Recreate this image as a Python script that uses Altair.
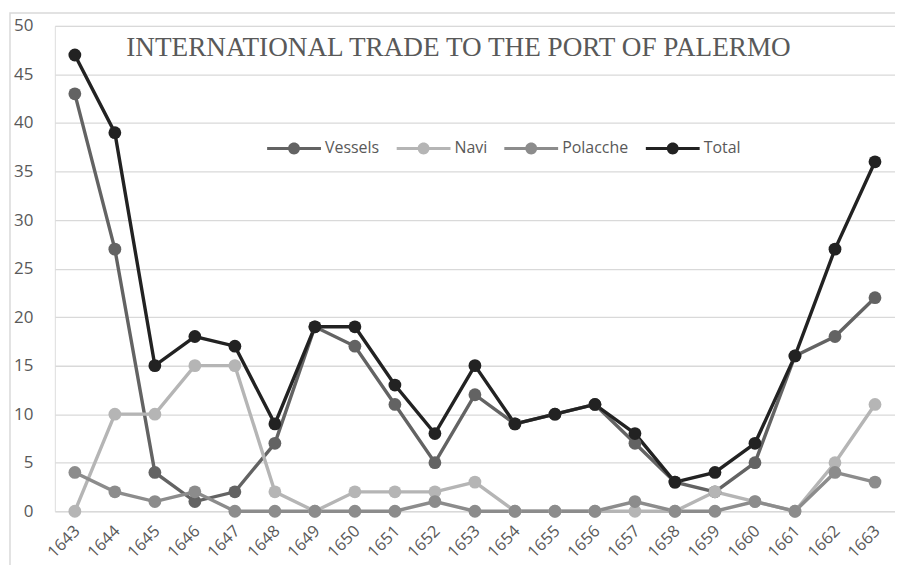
import altair as alt
import pandas as pd

years = [str(y) for y in range(1643, 1664)]
vessels = [43, 27, 4, 1, 2, 7, 19, 17, 11, 5, 12, 9, 10, 11, 7, 3, 2, 5, 16, 18, 22]
navi = [0, 10, 10, 15, 15, 2, 0, 2, 2, 2, 3, 0, 0, 0, 0, 0, 2, 1, 0, 5, 11]
polacche = [4, 2, 1, 2, 0, 0, 0, 0, 0, 1, 0, 0, 0, 0, 1, 0, 0, 1, 0, 4, 3]
total = [47, 39, 15, 18, 17, 9, 19, 19, 13, 8, 15, 9, 10, 11, 8, 3, 4, 7, 16, 27, 36]

series_names = ["Vessels", "Navi", "Polacche", "Total"]
series_colors = ["#636363", "#b5b5b5", "#8c8c8c", "#222222"]
y_ticks = [0, 5, 10, 15, 20, 25, 30, 35, 40, 45, 50]
title_text = "INTERNATIONAL TRADE TO THE PORT OF PALERMO"

rows = []
for name, vals in zip(series_names, [vessels, navi, polacche, total]):
    for yr, v in zip(years, vals):
        rows.append({"year": yr, "value": v, "series": name, "order": series_names.index(name)})
df = pd.DataFrame(rows)

W, H = 843, 487
FONT = "Open Sans"
TXT = "#595959"

x_enc = alt.X("year:O", sort=years,
              scale=alt.Scale(type="point", padding=0.5),
              axis=alt.Axis(title=None, labelAngle=-45, labelAlign="right", labelBaseline="middle",
                            labelFont=FONT, labelFontSize=16.5, labelColor=TXT, labelPadding=17,
                            labelOffset=2,
                            ticks=False, domain=False, grid=False))
y_enc = alt.Y("value:Q", scale=alt.Scale(domain=[0, 50], nice=False),
              axis=alt.Axis(title=None, values=y_ticks, labelFont=FONT, labelFontSize=17,
                            labelColor=TXT, labelPadding=22, ticks=False, domain=False,
                            grid=True, gridColor="#d9d9d9", gridWidth=1.3))

legend_path = ("M -1 -0.055 L 1 -0.055 L 1 0.055 L -1 0.055 Z "
               "M 0.22 0 A 0.22 0.22 0 1 1 -0.22 0 A 0.22 0.22 0 1 1 0.22 0 Z")

border = alt.Chart(pd.DataFrame({"a": [0]})).mark_rect(
    fill=None, stroke="#d9d9d9", strokeWidth=1.5
).encode(x=alt.value(-45), x2=alt.value(870), y=alt.value(-13), y2=alt.value(600))

lines = alt.Chart(df).mark_line(strokeWidth=3.4).encode(
    x=x_enc, y=y_enc,
    color=alt.Color("series:N", scale=alt.Scale(domain=series_names, range=series_colors),
                    legend=None),
    order=alt.Order("order:Q"),
)

points = alt.Chart(df).mark_point(filled=True, size=165, opacity=1).encode(
    x=x_enc, y=y_enc,
    color=alt.Color("series:N", scale=alt.Scale(domain=series_names, range=series_colors),
                    legend=alt.Legend(title=None, orient="none", direction="horizontal",
                                      legendX=213, legendY=96, symbolType=legend_path,
                                      symbolSize=2916, symbolStrokeWidth=0, symbolOpacity=1,
                                      labelFont=FONT, labelFontSize=16, labelColor=TXT,
                                      labelOffset=4, columnPadding=17)),
)

title = alt.Chart(pd.DataFrame({"t": [title_text]})).mark_text(
    font="Liberation Serif", fontSize=27.3, color=TXT, align="center", baseline="alphabetic"
).encode(text="t:N", x=alt.value(405), y=alt.value(30))

chart = alt.layer(border, lines, points, title).resolve_scale(
    color="independent"
).resolve_legend(color="independent").properties(
    width=W, height=H,
    autosize=alt.AutoSizeParams(type="none"),
    padding={"left": 47, "top": 17, "right": 0, "bottom": 53},
).configure_view(stroke=None).configure(background="white")

chart.save("out.html", embed_options={"renderer": "svg", "actions": False})
